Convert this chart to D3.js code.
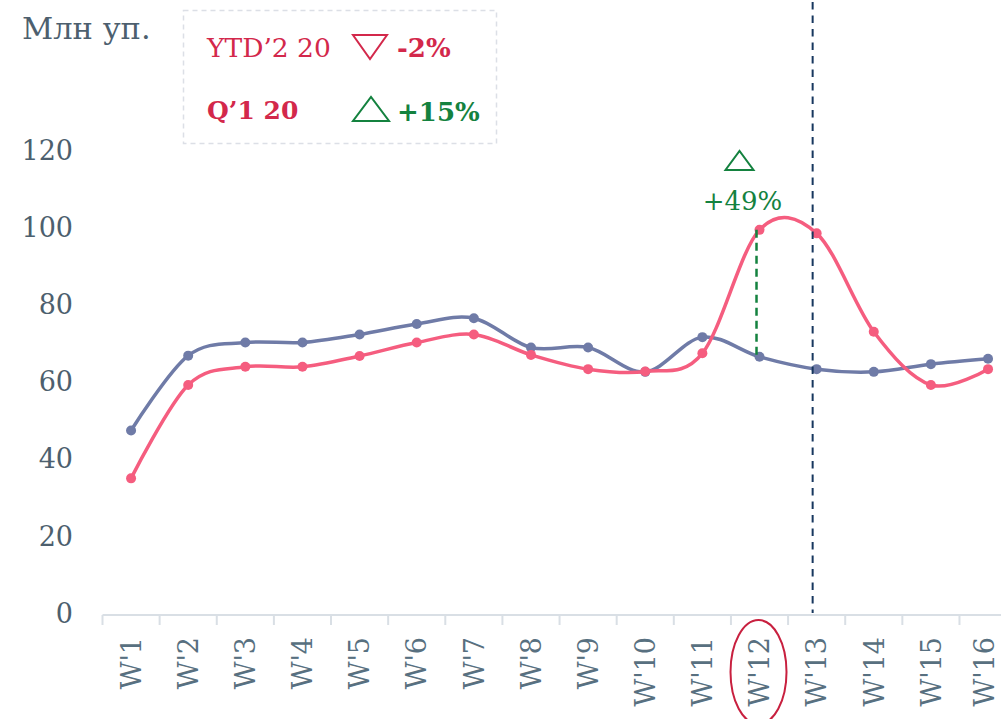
<!DOCTYPE html>
<html>
<head>
<meta charset="utf-8">
<script src="https://cdn.jsdelivr.net/npm/d3@7"></script>
<style>
  html, body { margin: 0; padding: 0; background: #fff; overflow: hidden; }
  svg { display: block; font-family: "DejaVu Serif", serif; }
</style>
</head>
<body>
<script>
// data
const weeks = ["W'1","W'2","W'3","W'4","W'5","W'6","W'7","W'8","W'9","W'10","W'11","W'12","W'13","W'14","W'15","W'16"];
const blueValues = [47.3, 66.7, 70.1, 70.1, 72.2, 74.9, 76.4, 68.8, 68.8, 62.5, 71.5, 66.4, 63.2, 62.5, 64.5, 65.9];
const pinkValues = [34.9, 59.1, 63.8, 63.8, 66.6, 70.1, 72.2, 66.9, 63.2, 62.6, 67.3, 99.3, 98.4, 72.9, 59.1, 63.2];
const yTicks = [0, 20, 40, 60, 80, 100, 120];
const unitLabel = "Млн уп.";
const legendRows = [
  {name: "YTD\u20192 20", change: "-2%", up: false, bold: false},
  {name: "Q\u20191 20", change: "+15%", up: true, bold: true}
];
const peakWeek = "W'12";
const peakChange = "+49%";
const splitWeek = "W'13";

// config
const width = 1001, height = 719;
const red = "#d3284b", green = "#14823f";
const pinkColor = "#f55d7f", blueColor = "#6f7ba7";

const svg = d3.select("body").append("svg")
  .attr("width", width)
  .attr("height", height);

const x = d3.scaleBand().domain(weeks).range([102.5, 1016.6]);
const xc = d => x(d) + x.bandwidth() / 2;
const y = d3.scaleLinear().domain([0, 120]).range([613, 150]);

// y labels
svg.append("g").selectAll("text")
  .data(yTicks)
  .join("text")
    .attr("x", 73)
    .attr("y", d => y(d))
    .attr("dy", "0.36em")
    .attr("text-anchor", "end")
    .attr("font-size", 27)
    .attr("fill", "#4d5f6e")
    .text(d => d);

svg.append("text")
  .attr("x", 22).attr("y", 39)
  .attr("font-size", 30.5)
  .attr("fill", "#4d5f6e")
  .text(unitLabel);

// x axis
const axisY = 615;
svg.append("line")
  .attr("x1", x.range()[0]).attr("x2", x.range()[1])
  .attr("y1", axisY).attr("y2", axisY)
  .attr("stroke", "#d9dfe5").attr("stroke-width", 2);

svg.append("g").selectAll("line")
  .data(weeks.map(d => x(d)).concat([x.range()[1]]))
  .join("line")
    .attr("x1", d => d).attr("x2", d => d)
    .attr("y1", axisY).attr("y2", axisY + 10)
    .attr("stroke", "#d9dfe5").attr("stroke-width", 2);

svg.append("g").selectAll("text")
  .data(weeks)
  .join("text")
    .attr("transform", d => `translate(${Math.min(xc(d), 984)},637) rotate(-90)`)
    .attr("dy", "0.36em")
    .attr("text-anchor", "end")
    .attr("font-size", 27)
    .attr("fill", "#587080")
    .text(d => d);

// circle around peak week label
svg.append("ellipse")
  .attr("cx", xc(peakWeek) - 1).attr("cy", 672)
  .attr("rx", 28).attr("ry", 52)
  .attr("fill", "none").attr("stroke", "#c8203f").attr("stroke-width", 2);

// lines
const line = d3.line()
  .x((d, i) => xc(weeks[i]))
  .y(d => y(d))
  .curve(d3.curveCardinal.tension(0));

[[blueValues, blueColor], [pinkValues, pinkColor]].forEach(([vals, col]) => {
  svg.append("path")
    .attr("d", line(vals))
    .attr("fill", "none")
    .attr("stroke", col)
    .attr("stroke-width", 3.5);
  svg.append("g").selectAll("circle")
    .data(vals)
    .join("circle")
      .attr("cx", (d, i) => xc(weeks[i]))
      .attr("cy", d => y(d))
      .attr("r", 5)
      .attr("fill", col);
});

// peak annotation
const pi = weeks.indexOf(peakWeek);
svg.append("line")
  .attr("x1", xc(peakWeek) - 3).attr("x2", xc(peakWeek) - 3)
  .attr("y1", y(pinkValues[pi])).attr("y2", y(blueValues[pi]))
  .attr("stroke", green).attr("stroke-width", 2.5)
  .attr("stroke-dasharray", "8 5");

const tx = xc(peakWeek) - 20;
svg.append("path")
  .attr("d", d3.line()([[tx - 14, 170], [tx + 14, 170], [tx, 151]]) + "Z")
  .attr("fill", "none").attr("stroke", green).attr("stroke-width", 2);
svg.append("text")
  .attr("x", tx + 3).attr("y", 210)
  .attr("text-anchor", "middle")
  .attr("font-size", 26)
  .attr("fill", green)
  .text(peakChange);

// split line
svg.append("line")
  .attr("x1", xc(splitWeek) - 4).attr("x2", xc(splitWeek) - 4)
  .attr("y1", 2).attr("y2", y(0))
  .attr("stroke", "#17375e").attr("stroke-width", 2)
  .attr("stroke-dasharray", "7.5 6");

// legend box
const lg = svg.append("g");
lg.append("rect")
  .attr("x", 183.5).attr("y", 10.5)
  .attr("width", 313).attr("height", 133)
  .attr("fill", "none").attr("stroke", "#dcdfe6")
  .attr("stroke-width", 1.5).attr("stroke-dasharray", "5 4");

legendRows.forEach((r, i) => {
  const by = 57 + i * 62;
  lg.append("text")
    .attr("x", 207).attr("y", by)
    .attr("font-size", r.bold ? 25 : 26.5)
    .attr("font-weight", r.bold ? "bold" : "normal")
    .attr("fill", red)
    .text(r.name);
  const col = r.up ? green : red;
  const tri = r.up
    ? [[353, by + 2], [389, by + 2], [371, by - 22]]
    : [[353, by - 22], [387, by - 22], [370, by + 2]];
  lg.append("path")
    .attr("d", d3.line()(tri) + "Z")
    .attr("fill", "none").attr("stroke", col).attr("stroke-width", 2);
  lg.append("text")
    .attr("x", 397).attr("y", by + (r.up ? 2 : 0))
    .attr("font-size", 26)
    .attr("font-weight", "bold")
    .attr("fill", col)
    .text(r.change);
});
</script>
</body>
</html>
